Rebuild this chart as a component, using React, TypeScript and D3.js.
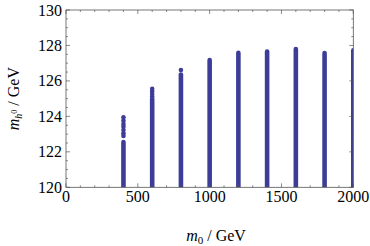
import React, { useRef, useEffect } from 'react';
import * as d3 from 'd3';

// m0 values of the scanned columns and the top of the dense part of each column
const m0Values = [400, 600, 800, 1000, 1200, 1400, 1600, 1800, 2000];
const denseTop = [122.55, 125.0, 126.36, 127.18, 127.58, 127.66, 127.8, 127.57, 127.72];
// isolated points sitting above the dense parts
const sparseM0 = [400, 400, 400, 400, 400, 400, 400, 600, 600, 600, 600, 800];
const sparseMh = [122.9, 123.05, 123.23, 123.42, 123.57, 123.76, 123.95, 125.12, 125.26, 125.4, 125.55, 126.62];

const xTicks = [0, 500, 1000, 1500, 2000];
const yTicks = [120, 122, 124, 126, 128, 130];

const App = () => {
    const svgRef = useRef<SVGSVGElement>(null);

    useEffect(() => {
        const svg = d3.select(svgRef.current);
        svg.selectAll('*').remove();

        const left = 66, right = 353.3, top = 10, bottom = 187.3;
        const color = '#3d3d99';
        const frameColor = '#555';
        const r = 2.3;

        const x = d3.scaleLinear().domain([0, 2000]).range([left, right]);
        const y = d3.scaleLinear().domain([120, 130]).range([bottom, top]);

        svg.append('defs').append('clipPath').attr('id', 'plotclip')
            .append('rect')
            .attr('x', left).attr('y', top)
            .attr('width', right - left).attr('height', bottom - top);

        const plot = svg.append('g').attr('clip-path', 'url(#plotclip)');

        // dense columns
        plot.selectAll('.col')
            .data(m0Values)
            .join('line')
            .attr('x1', d => x(d)).attr('x2', d => x(d))
            .attr('y1', y(119.5))
            .attr('y2', (d, i) => y(denseTop[i]))
            .attr('stroke', color)
            .attr('stroke-width', 2 * r)
            .attr('stroke-linecap', 'round');

        // sparse points
        plot.selectAll('.pt')
            .data(sparseM0)
            .join('circle')
            .attr('cx', d => x(d))
            .attr('cy', (d, i) => y(sparseMh[i]))
            .attr('r', r)
            .attr('fill', color);

        // frame
        svg.append('rect')
            .attr('x', left).attr('y', top)
            .attr('width', right - left).attr('height', bottom - top)
            .attr('fill', 'none').attr('stroke', frameColor).attr('stroke-width', 0.8);

        const ticks = svg.append('g').attr('stroke', frameColor).attr('stroke-width', 0.7);
        d3.range(0, 2001, 100).forEach(v => {
            const len = v % 500 === 0 ? 4 : 2;
            ticks.append('line').attr('x1', x(v)).attr('x2', x(v)).attr('y1', bottom).attr('y2', bottom - len);
            ticks.append('line').attr('x1', x(v)).attr('x2', x(v)).attr('y1', top).attr('y2', top + len);
        });
        d3.range(120, 130.01, 0.5).forEach(v => {
            const len = Math.abs(v % 2) < 1e-6 ? 4 : 2;
            ticks.append('line').attr('x1', left).attr('x2', left + len).attr('y1', y(v)).attr('y2', y(v));
            ticks.append('line').attr('x1', right).attr('x2', right - len).attr('y1', y(v)).attr('y2', y(v));
        });

        const font = 'Liberation Serif';
        const fs = 16;

        svg.selectAll('.xt')
            .data(xTicks)
            .join('text')
            .attr('x', d => x(d))
            .attr('y', 202)
            .attr('text-anchor', 'middle')
            .attr('font-family', font)
            .attr('font-size', fs)
            .text(d => d);

        svg.selectAll('.yt')
            .data(yTicks)
            .join('text')
            .attr('x', 62)
            .attr('y', d => y(d) + 5.5)
            .attr('text-anchor', 'end')
            .attr('font-family', font)
            .attr('font-size', fs)
            .text(d => d);

        // x title
        const xt = svg.append('text')
            .attr('x', 216).attr('y', 241)
            .attr('text-anchor', 'middle')
            .attr('font-family', font)
            .attr('font-size', fs);
        xt.append('tspan').attr('font-style', 'italic').text('m');
        xt.append('tspan').attr('font-size', 11).attr('dy', 3).text('0');
        xt.append('tspan').attr('dy', -3).text(' / GeV');

        // y title
        const yt = svg.append('text')
            .attr('transform', `translate(18.5,${(top + bottom) / 2}) rotate(-90)`)
            .attr('text-anchor', 'middle')
            .attr('font-family', font)
            .attr('font-size', fs);
        yt.append('tspan').attr('font-style', 'italic').text('m');
        yt.append('tspan').attr('font-style', 'italic').attr('font-size', 10).attr('dy', 3).text('h');
        yt.append('tspan').attr('font-size', 8).attr('dy', -5).text('0');
        yt.append('tspan').attr('dy', 2).text(' / GeV');
    }, []);

    return (
        <svg ref={svgRef} width="370" height="246"
            style={{ position: 'absolute', left: 0, top: 0, background: '#fff' }}></svg>
    );
};

export default App;
